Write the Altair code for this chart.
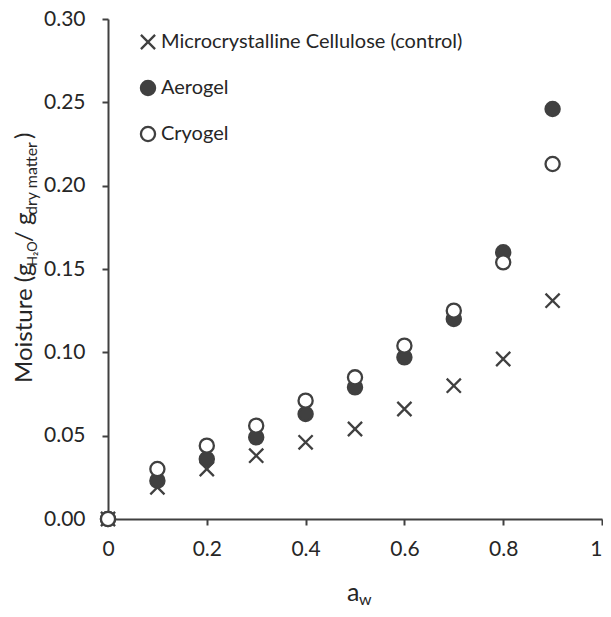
import altair as alt
import pandas as pd

# ---- data ----
aw = [0.0, 0.1, 0.2, 0.3, 0.4, 0.5, 0.6, 0.7, 0.8, 0.9]
mcc = [0.0, 0.019, 0.030, 0.038, 0.046, 0.054, 0.066, 0.080, 0.096, 0.131]
aerogel = [0.0, 0.023, 0.036, 0.049, 0.063, 0.079, 0.097, 0.120, 0.160, 0.246]
cryogel = [0.0, 0.030, 0.044, 0.056, 0.071, 0.085, 0.104, 0.125, 0.154, 0.213]
series = ["Microcrystalline Cellulose (control)", "Aerogel", "Cryogel"]
x_ticks = [0, 0.2, 0.4, 0.6, 0.8, 1.0]
y_ticks = [0.0, 0.05, 0.10, 0.15, 0.20, 0.25, 0.30]

rows = []
for name, vals in zip(series, [mcc, aerogel, cryogel]):
    for a, m in zip(aw, vals):
        rows.append({"aw": a, "moisture": m, "series": name})
df = pd.DataFrame(rows)

DARK = "#404040"
TEXT = "#262626"
FONT = "Lato"
X_PATH = "M-1,-1L1,1M1,-1L-1,1"

legend = alt.Legend(
    title=None, orient="none", legendX=30, legendY=13,
    labelFontSize=20, labelFont=FONT, labelColor=TEXT, labelLimit=400,
    symbolSize=200, symbolStrokeWidth=2.3, rowPadding=22, labelOffset=3,
    padding=0,
)

points = alt.Chart(df).mark_point(filled=True, size=200, strokeWidth=2.3, opacity=1).encode(
    x=alt.X("aw:Q", scale=alt.Scale(domain=[0, 1], nice=False),
            axis=alt.Axis(values=x_ticks, format="~g", title="", labelPadding=13,
                          labelAlign={"condition": {"test": "datum.value == 1", "value": "right"},
                                      "value": "center"})),
    y=alt.Y("moisture:Q", scale=alt.Scale(domain=[0, 0.3], nice=False),
            axis=alt.Axis(values=y_ticks, format=".2f", title="", labelPadding=17)),
    shape=alt.Shape("series:N", scale=alt.Scale(domain=series, range=[X_PATH, "circle", "circle"]), legend=legend),
    fill=alt.Fill("series:N", scale=alt.Scale(domain=series, range=["white", DARK, "white"]), legend=legend),
    stroke=alt.Stroke("series:N", scale=alt.Scale(domain=series, range=[DARK, DARK, DARK]), legend=legend),
)

one = pd.DataFrame({"k": [0]})

def label(text, x, y, size, angle=0):
    kw = dict(text=text, font=FONT, fontSize=size, color=TEXT,
              align="left", baseline="alphabetic")
    if angle:
        kw["angle"] = angle
    return alt.Chart(one).mark_text(**kw).encode(x=alt.value(x), y=alt.value(y))

# y-axis title (rotated) pieces, plot-area pixel coords
yt = [
    label("Moisture (g", -76, 364, 24, 270),
    label("H₂O", -71, 247, 13, 270),
    label("/ g", -76, 223, 24, 270),
    label("dry matter", -71, 196, 16, 270),
    label(")", -76, 120, 24, 270),
]
# x-axis title pieces
xt = [
    label("a", 239, 582, 25),
    label("w", 251, 586, 16),
]

chart = alt.layer(points, *yt, *xt).properties(
    width=494, height=500,
    padding={"left": 100, "top": 11, "right": 1, "bottom": 90},
    autosize=alt.AutoSizeParams(type="none"),
).configure_axis(
    domainColor=DARK, domainWidth=2, tickColor=DARK, tickWidth=2, tickSize=6,
    labelFont=FONT, labelFontSize=21, labelColor=TEXT, grid=False,
).configure_view(stroke=None)

chart.save("out.html", embed_options={"renderer": "svg", "actions": False})
